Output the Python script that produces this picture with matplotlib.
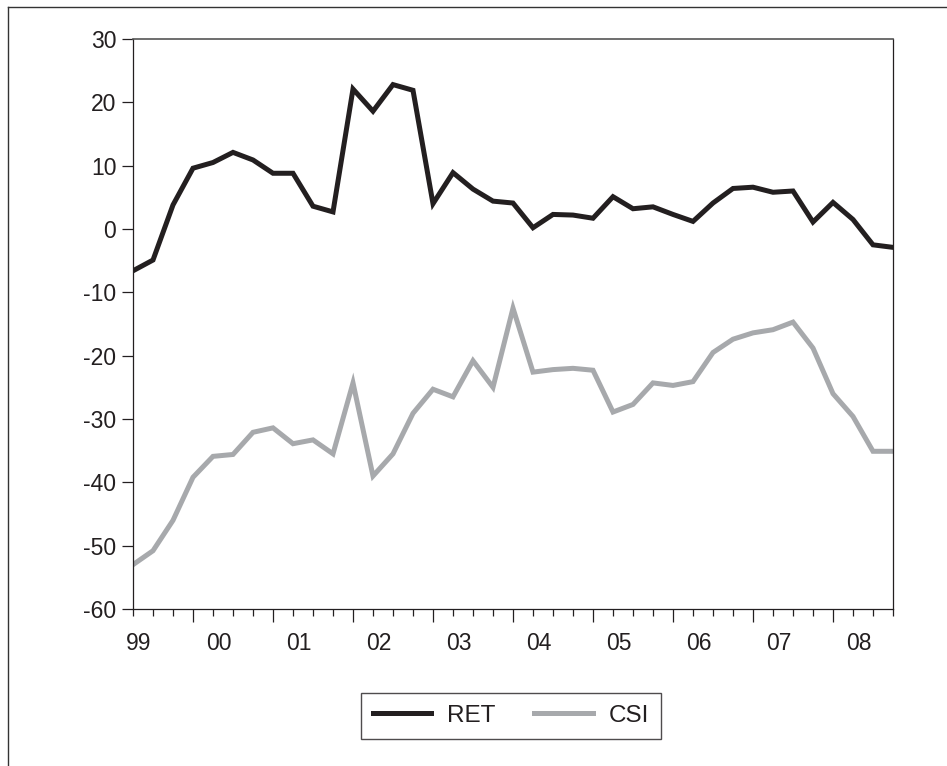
import matplotlib
matplotlib.use("Agg")
import matplotlib.pyplot as plt
from matplotlib.lines import Line2D
from matplotlib.ticker import FixedLocator, NullFormatter

plt.rcParams['font.family'] = ['Liberation Sans', 'DejaVu Sans']
plt.rcParams['axes.unicode_minus'] = False

# quarterly observations, 1999Q1 onwards
ret = [-6.6, -4.9, 3.8, 9.6, 10.5, 12.1, 10.9, 8.8, 8.8, 3.6,
       2.7, 22.1, 18.6, 22.8, 21.9, 4.0, 8.9, 6.3, 4.4, 4.1,
       0.2, 2.3, 2.2, 1.7, 5.1, 3.2, 3.5, 2.3, 1.2, 4.1,
       6.4, 6.6, 5.8, 6.0, 1.1, 4.2, 1.5, -2.5, -2.9]
csi = [-53.0, -50.8, -46.0, -39.2, -35.9, -35.6, -32.1, -31.4, -33.9, -33.3,
       -35.5, -24.3, -39.0, -35.5, -29.1, -25.3, -26.5, -20.8, -25.0, -12.5,
       -22.6, -22.2, -22.0, -22.3, -28.9, -27.7, -24.3, -24.7, -24.1, -19.5,
       -17.4, -16.4, -15.9, -14.7, -18.8, -26.0, -29.6, -35.1, -35.1]
year_labels = ['99', '00', '01', '02', '03', '04', '05', '06', '07', '08']

ink = '#231f20'
grey = '#a7a9ac'

fig = plt.figure(figsize=(9.47, 7.66), dpi=100)
ax = fig.add_axes([133/947, 1 - 609/766, 760/947, 570/766])

x = list(range(len(ret)))
ax.plot(x, ret, color=ink, lw=3.6, label='RET', solid_joinstyle='miter')
ax.plot(x, csi, color=grey, lw=3.6, label='CSI', solid_joinstyle='miter')

ax.set_xlim(0, len(ret) - 1)
ax.set_ylim(-60, 30)
ax.set_yticks(range(-60, 31, 10))
ax.tick_params(axis='y', direction='out', length=8, width=0.9, colors=ink,
               labelsize=16.5, pad=4)

major = list(range(3, len(ret), 4))
minor = [i for i in range(len(ret)) if i not in major]
ax.xaxis.set_major_locator(FixedLocator(major))
ax.xaxis.set_minor_locator(FixedLocator(minor))
ax.xaxis.set_major_formatter(NullFormatter())
ax.tick_params(axis='x', which='major', direction='out', length=9.5, width=0.9, colors=ink)
ax.tick_params(axis='x', which='minor', direction='out', length=5, width=0.9, colors=ink)

tr = ax.get_xaxis_transform()
for i, lab in enumerate(year_labels):
    ax.text(0.3 + 4 * i, -0.0614, lab, transform=tr, ha='center', va='center',
            fontsize=16.5, color=ink)

for side in ['left', 'bottom', 'right']:
    ax.spines[side].set_color(ink)
    ax.spines[side].set_linewidth(0.9)
ax.spines['top'].set_color('#555555')
ax.spines['top'].set_linewidth(1.2)

# outer frame (top and left edges visible)
fig.add_artist(Line2D([8/947, 1.0], [1 - 7/766, 1 - 7/766], transform=fig.transFigure,
                      color='#333333', lw=1.0))
fig.add_artist(Line2D([8/947, 8/947], [1 - 7/766, 0.0], transform=fig.transFigure,
                      color='#333333', lw=1.0))

leg = fig.legend(loc='center', bbox_to_anchor=(511/947, 1 - 715.7/766), ncol=2,
                 fontsize=17.5, frameon=True, fancybox=False, handlelength=2.4,
                 handletextpad=0.65, columnspacing=1.6, borderpad=0.5,
                 borderaxespad=0)
leg.get_frame().set_edgecolor(ink)
leg.get_frame().set_linewidth(1.0)
for t in leg.get_texts():
    t.set_color(ink)

fig.savefig('out.png', dpi=100)
